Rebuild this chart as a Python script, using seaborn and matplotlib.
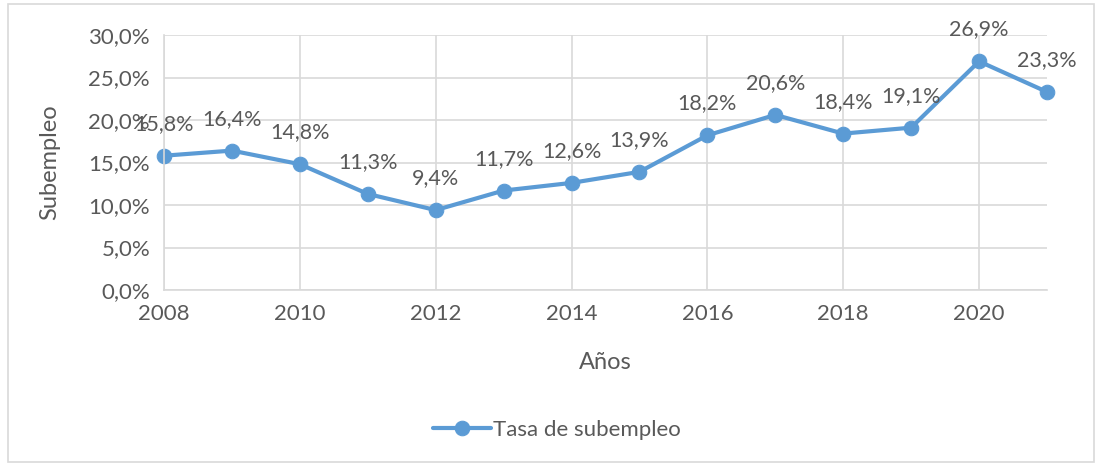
import numpy as np
import pandas as pd
import matplotlib
matplotlib.use("Agg")
import matplotlib.pyplot as plt
import seaborn as sns
from matplotlib.patches import Rectangle
from matplotlib.ticker import FuncFormatter

# datos
anios = [2008, 2009, 2010, 2011, 2012, 2013, 2014, 2015, 2016, 2017, 2018, 2019, 2020, 2021]
tasa = [15.8, 16.4, 14.8, 11.3, 9.4, 11.7, 12.6, 13.9, 18.2, 20.6, 18.4, 19.1, 26.9, 23.3]
serie = "Tasa de subempleo"

df = pd.DataFrame({"Años": anios, "tasa": tasa, "serie": serie})

sns.set_style("white")
plt.rcParams["font.family"] = ["Lato", "DejaVu Sans"]

azul = "#5B9BD5"
gris_txt = "#595959"
gris_grid = "#D9D9D9"

fig = plt.figure(figsize=(10.96, 4.66), dpi=100)
ax = fig.add_axes([164 / 1096, 1 - 290 / 466, (1047 - 164) / 1096, (290 - 35) / 466])

sns.lineplot(data=df, x="Años", y="tasa", hue="serie", palette=[azul], marker="o",
             markersize=10.5, linewidth=3, markeredgecolor=azul, ax=ax, clip_on=False)

for x, y in zip(anios, tasa):
    ax.annotate(f"{y:.1f}%".replace(".", ","), (x, y), xytext=(0, 23), textcoords="offset points",
                ha="center", va="center", fontsize=15.5, color=gris_txt)

ax.set_xlim(2008, 2021)
ax.set_ylim(0, 30)
ax.set_xticks(range(2008, 2021, 2))
ax.set_yticks(np.arange(0, 31, 5))
ax.yaxis.set_major_formatter(FuncFormatter(lambda v, p: f"{v:.1f}%".replace(".", ",")))
ax.grid(True, color=gris_grid, linewidth=1.2)
ax.set_axisbelow(True)
for s in ["top", "right"]:
    ax.spines[s].set_visible(False)
for s in ["left", "bottom"]:
    ax.spines[s].set_color(gris_grid)
    ax.spines[s].set_linewidth(1.2)
ax.tick_params(axis="both", labelsize=16, colors=gris_txt, length=0, pad=10)
ax.set_xlabel("Años", fontsize=17, color=gris_txt, labelpad=20)
ax.set_ylabel("Subempleo", fontsize=17, color=gris_txt, labelpad=20)

leg = ax.legend(loc="center", bbox_to_anchor=(0.508, 1 - 430 / 466), bbox_transform=fig.transFigure,
                frameon=False, fontsize=16, handlelength=2.6, handletextpad=0.1)
for t in leg.get_texts():
    t.set_color(gris_txt)
leg.set_title(None)

fig.patches.append(Rectangle((8 / 1096, 4 / 466), 1 - 10 / 1096, 1 - 8 / 466,
                             transform=fig.transFigure, fill=False, edgecolor=gris_grid, linewidth=1.2))

fig.savefig("out.png", dpi=100)
